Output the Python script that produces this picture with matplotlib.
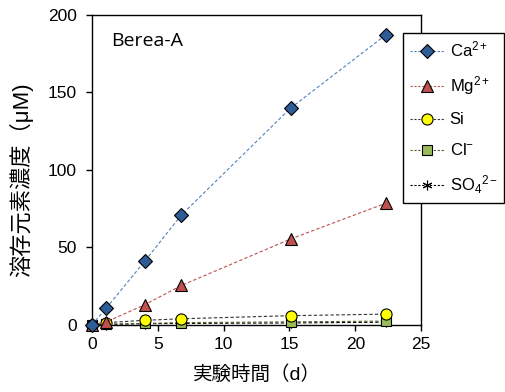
import matplotlib
matplotlib.use("Agg")
import matplotlib.pyplot as plt
from matplotlib.lines import Line2D

plt.rcParams["font.family"] = ["Liberation Sans", "Noto Sans CJK JP", "DejaVu Sans"]
plt.rcParams["mathtext.fontset"] = "custom"
plt.rcParams["mathtext.rm"] = "Liberation Sans"
plt.rcParams["mathtext.it"] = "Liberation Sans"
plt.rcParams["mathtext.default"] = "regular"

# elapsed time (d)
days = [0, 1.1, 4.0, 6.8, 15.1, 22.3]

# dissolved concentrations (uM)
ca = [0, 11, 41, 71, 140, 187]
mg = [0, 2, 13, 25.5, 55.5, 78.5]
si = [0, 1.5, 3, 4, 6, 7]
cl = [0, 0.5, 1, 1.5, 2, 2.5]
so4 = [0, 0.3, 0.8, 1, 1.3, 1.8]

series_labels = ["Ca$^{2+}$", "Mg$^{2+}$", "Si", "Cl$^{-}$", "SO$_{4}$$^{2-}$"]

fig = plt.figure(figsize=(5.05, 3.92), dpi=100)
ax = fig.add_axes([0.182, 0.171, 0.652, 0.791])

styles = [
    (ca, "D", "#2E5C96", "#4F81BD", 7),
    (mg, "^", "#C0504D", "#C0504D", 8),
    (si, "o", "#FFFF00", "#333333", 8),
    (cl, "s", "#9BBB59", "#4F6228", 7),
    (so4, (6, 2, 0), "black", "black", 7),
]

handles = []
for i, ((vals, mk, fc, lc, ms), lab) in enumerate(zip(styles, series_labels)):
    # first series ends up on top
    ax.plot(days, vals, linestyle=(0, (3, 2)), linewidth=0.8, color=lc,
            marker=mk, markersize=ms, markerfacecolor=fc,
            markeredgecolor="black", markeredgewidth=0.8, clip_on=False,
            zorder=10 - i)
    handles.append(Line2D([], [], linestyle=(0, (2, 1.5)), linewidth=0.8, color=lc,
                          marker=mk, markersize=ms, markerfacecolor=fc,
                          markeredgecolor="black", markeredgewidth=0.8, label=lab))

ax.set_xlim(0, 25)
ax.set_ylim(0, 200)
ax.set_xticks([0, 5, 10, 15, 20, 25])
ax.set_yticks([0, 50, 100, 150, 200])
ax.tick_params(direction="out", length=4, width=1, labelsize=12.5, colors="black")
ax.tick_params(axis="y", pad=7)
ax.tick_params(axis="x", pad=5)
ax.tick_params(top=False, right=False)
for s in ax.spines.values():
    s.set_linewidth(1)
    s.set_color("black")

ax.text(1.45, 183, "Berea-A", fontsize=14, ha="left", va="center",
        family=["Open Sans", "DejaVu Sans"])

ax.set_xlabel("実験時間（d）", fontsize=14)
ax.set_ylabel("溶存元素濃度（μM)", fontsize=16)
ax.xaxis.set_label_coords(0.5, -0.13)
ax.yaxis.set_label_coords(-0.179, 0.47)

leg = fig.legend(handles=handles, loc="upper left", bbox_to_anchor=(0.798, 0.916),
                 fontsize=12, frameon=True, fancybox=False, edgecolor="black",
                 handlelength=2.1, handletextpad=0.3, labelspacing=0.9,
                 borderpad=0.4, borderaxespad=0, framealpha=1)
leg.get_frame().set_linewidth(1)

fig.savefig("out.png", dpi=100)
